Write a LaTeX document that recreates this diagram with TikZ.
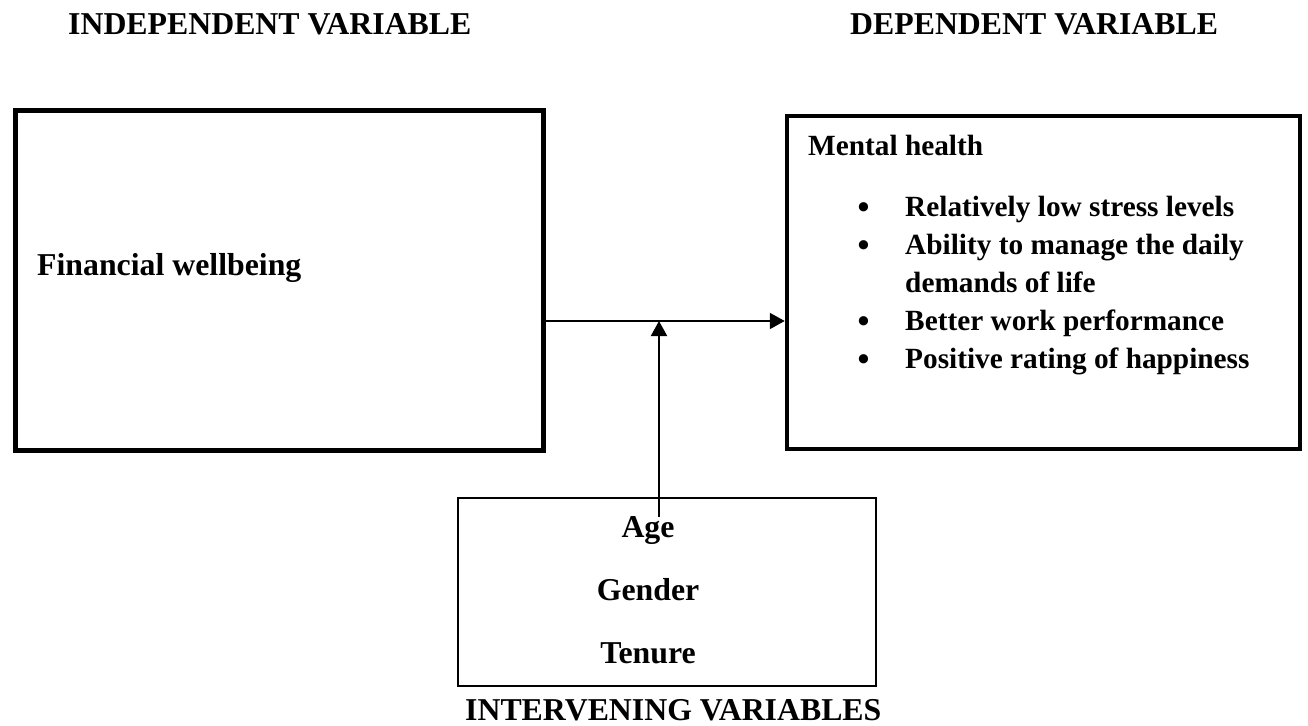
\documentclass[tikz,border=0pt]{standalone}
\usepackage{fontspec}
\setmainfont{Liberation Serif}
\usetikzlibrary{arrows.meta}
\tikzset{
  txt/.style={inner sep=0pt, anchor=base west, font=\bfseries\fontsize{31.8}{38}\selectfont},
  stxt/.style={txt, font=\bfseries\fontsize{29.3}{38}\selectfont},
  bul/.style={txt, font=\bfseries\fontsize{34}{38}\selectfont},
  ctxt/.style={txt, anchor=base},
  thickbox/.style={draw, line width=5pt, inner sep=0pt},
  thinbox/.style={draw, line width=2pt, inner sep=0pt},
  arr/.style={line width=2pt, -{Triangle[length=15pt,width=16pt]}}
}
\begin{document}
\begin{tikzpicture}[x=1pt,y=-1pt]
\useasboundingbox (0,0) rectangle (1308,725);
% titles
\node[txt] (tind) at (68,34.5) {INDEPENDENT VARIABLE};
\node[txt] (tdep) at (850,34.5) {DEPENDENT VARIABLE};
\node[txt] (tint) at (465,720) {INTERVENING VARIABLES};
% boxes
\node[thickbox, minimum width=527.5pt, minimum height=340pt] (ind) at (279.25,280) {};
\node[thickbox, line width=4.5pt, minimum width=513pt, minimum height=333pt] (dep) at (1043.5,282.5) {};
\node[thinbox, minimum width=418pt, minimum height=188pt] (int) at (666.5,591.5) {};
% texts
\node[txt] (fw) at (37,275) {Financial wellbeing};
\node[stxt] (mh) at (808,155) {Mental health};
\node[bul] (b1) at (857.5,218) {\textbullet};
\node[stxt] (l1) at (905,216) {Relatively low stress levels};
\node[bul] (b2) at (857.5,256) {\textbullet};
\node[stxt] (l2) at (905,254) {Ability to manage the daily};
\node[stxt] (l3) at (905,292) {demands of life};
\node[bul] (b4) at (857.5,332) {\textbullet};
\node[stxt] (l4) at (905,330) {Better work performance};
\node[bul] (b5) at (857.5,370) {\textbullet};
\node[stxt] (l5) at (905,368) {Positive rating of happiness};
\node[ctxt] (age) at (648,537) {Age};
\node[ctxt] (gen) at (648,600) {Gender};
\node[ctxt] (ten) at (648,663) {Tenure};
% connectors
\coordinate (m) at (659,321);
\coordinate (vs) at (659,517);
\draw[arr] (ind.east |- m) -- (dep.west |- m);
\draw[arr] (vs) -- (m);
\end{tikzpicture}
\end{document}
